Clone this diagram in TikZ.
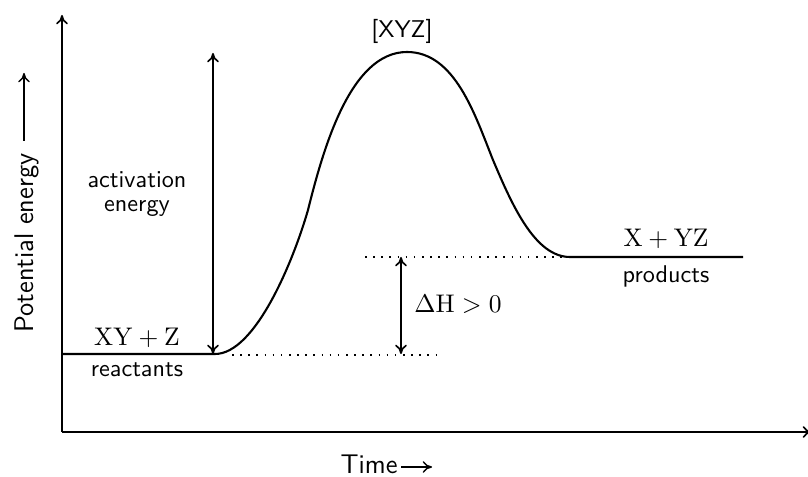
\documentclass[tikz,border=0pt]{standalone}
\usetikzlibrary{arrows.meta}
\begin{document}
\begin{tikzpicture}[
  x=0.0151cm,y=-0.0151cm,
  font=\sffamily\fontsize{10.4}{10.5}\selectfont,
  axis/.style={-{To[length=4pt,width=5pt]},line width=.7pt},
  span/.style={{To[length=4pt,width=5pt]}-{To[length=4pt,width=5pt]},line width=.7pt},
  path/.style={line width=.9pt},
  level/.style={line width=.7pt,dash pattern=on .7pt off 2.8pt},
  lbl/.style={inner sep=0pt,anchor=base},
  chem/.style={lbl,font=\fontsize{11.4}{13}\selectfont},
  axlbl/.style={lbl,font=\sffamily\fontsize{11.6}{13}\selectfont}
]
\useasboundingbox (0,0) rectangle (808,477);

% axes
\coordinate (origin) at (62,432);
\coordinate (ytop) at (62,15);
\coordinate (xend) at (812,432);
\draw[axis] (origin) -- (ytop);
\draw[axis] (origin) -- (xend);

% energy profile
\coordinate (r0) at (62,354);
\coordinate (r1) at (215,354);
\coordinate (ts) at (407,52);
\coordinate (p0) at (570,257);
\coordinate (p1) at (743,257);
\draw[path] (r0) -- (r1)
  .. controls (255,354) and (293,262) .. (308,210)
  .. controls (323,150) and (350,52) .. (ts)
  .. controls (455,52) and (475,115) .. (493,160)
  .. controls (512,205) and (535,257) .. (p0) -- (p1);

% reference levels
\coordinate (rdot0) at (232,355);
\coordinate (rdot1) at (440,355);
\coordinate (pdot0) at (365,257);
\draw[level] (rdot0) -- (rdot1);
\draw[level] (pdot0) -- (p0);

% activation energy and enthalpy change
\coordinate (ea-top) at (213,53);
\coordinate (ea-bot) at (213,354);
\draw[span] (ea-bot) -- (ea-top);
\coordinate (dh-top) at (401,257);
\coordinate (dh-bot) at (401,354);
\draw[span] (dh-bot) -- (dh-top);

\node[lbl] (peak) at (402,38) {[XYZ]};
\node[lbl,align=center] (ea) at (137,211.7) {activation\\energy};
\node[chem] (reac) at (137,346) {$\mathrm{XY}+\mathrm{Z}$};
\node[lbl] (reac-name) at (137,377) {reactants};
\node[chem] (prod) at (666,247) {$\mathrm{X}+\mathrm{YZ}$};
\node[lbl] (prod-name) at (666,283) {products};
\node[chem,anchor=base west] (dh) at (414,313) {$\Delta\mathrm{H}>0$};

% axis labels
\node[axlbl,anchor=base east] (time) at (398,474) {Time};
\coordinate (time-tip) at (432,467);
\draw[axis,line width=.6pt] (time.base east) ++(3,-7) coordinate (time-from) -- (time-tip);
\node[axlbl,rotate=90,anchor=base west] (pe) at (33,333) {Potential energy};
\coordinate (pe-from) at (24,141);
\coordinate (pe-tip) at (24,73);
\draw[axis,line width=.6pt] (pe-from) -- (pe-tip);
\end{tikzpicture}
\end{document}
